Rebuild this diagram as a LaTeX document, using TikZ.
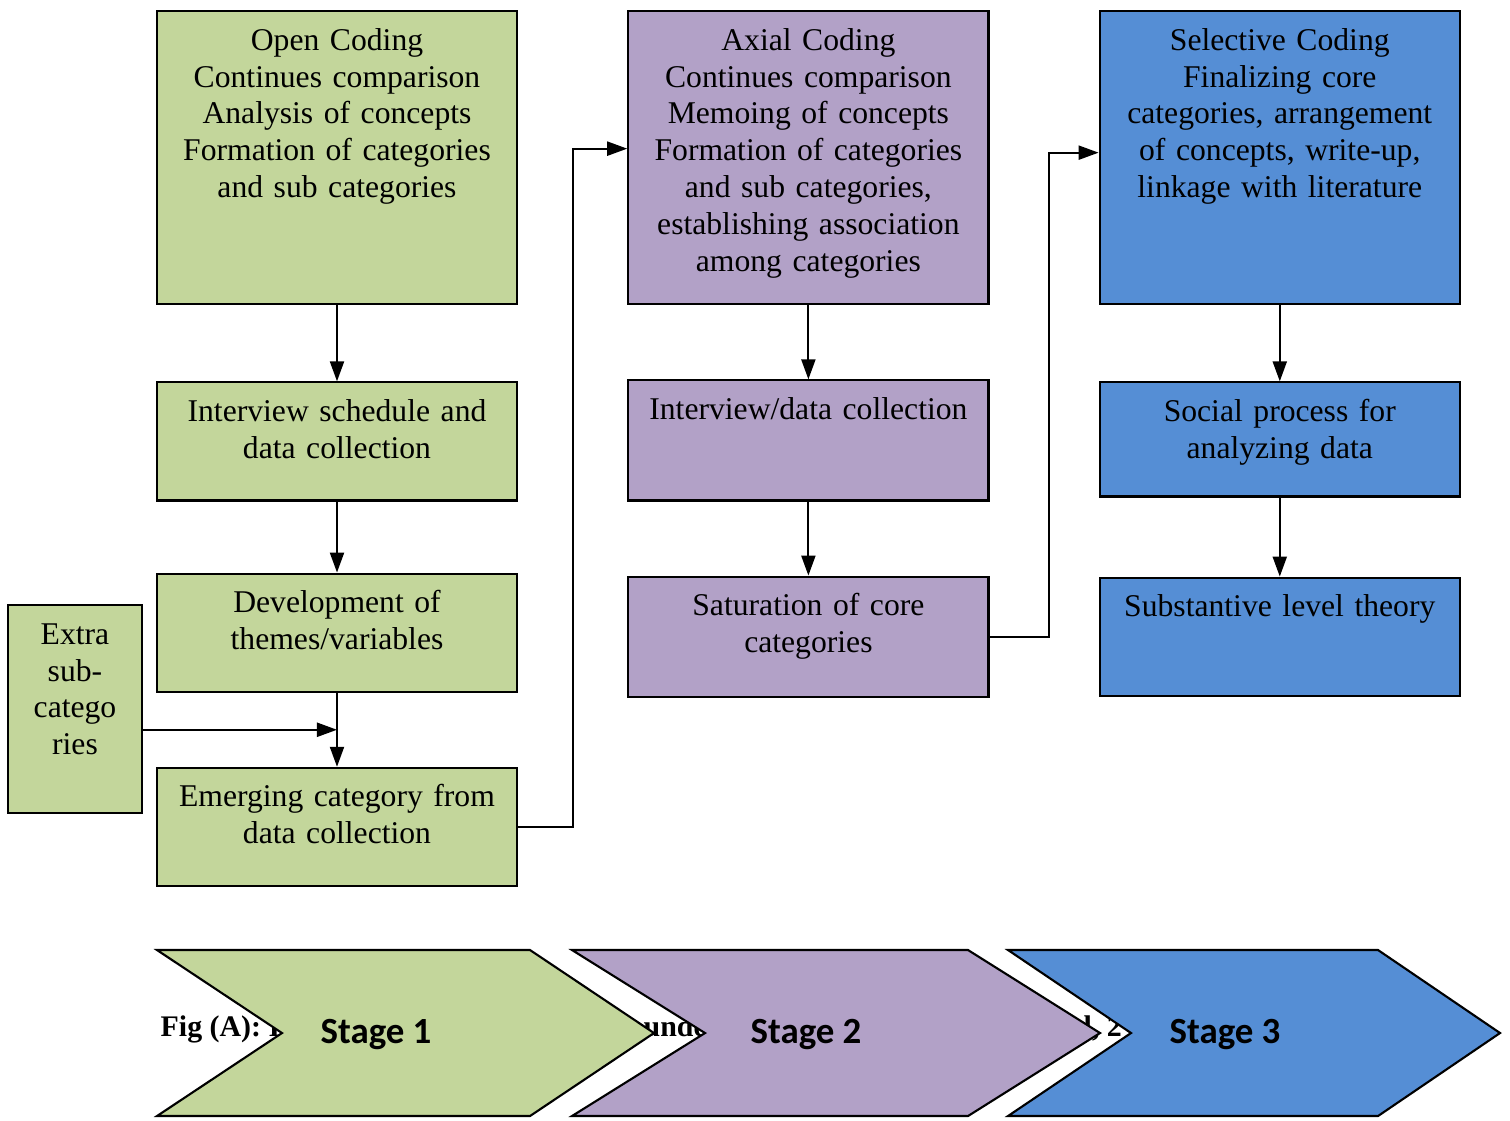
\documentclass[tikz,border=0pt]{standalone}
\usepackage{fontspec}
\setmainfont{Liberation Serif}
\newfontfamily\stagefont{Carlito}
\usepackage{xcolor}
\usetikzlibrary{positioning,%
  calc,%
  arrows.meta
}
\definecolor{gruen}{HTML}{C3D69B}
\definecolor{lila}{HTML}{B2A1C7}
\definecolor{blau}{HTML}{558ED5}

\begin{document}
\begin{tikzpicture}
                    [
                        x=0.01cm, y=-0.01cm,
                        every node/.style={font=\fontsize{9}{10.5}\selectfont},
                        box/.style={draw, line width=0.6pt, rectangle, minimum width=3.6cm,
                            text width=3.3cm, align=center, inner ysep=0.15cm, text height=0.24cm},
                        grossbox/.style={box, text depth=2.39cm},
                        kleinbox/.style={box, text depth=0.64cm},
                        pfeil/.style={line width=0.6pt, -{Triangle[length=2mm,width=1.4mm]}},
                        chevron/.style={draw, line width=0.6pt},
                        stagelabel/.style={font=\stagefont\bfseries\fontsize{10.5}{12}\selectfont},
                        figtext/.style={font=\bfseries\fontsize{8.5}{10}\selectfont, anchor=base west, inner sep=0pt}
                    ]

                    % Rahmen
                    \useasboundingbox (0,0) rectangle (1510,1120);

                    % Stufe 1
                    \node[grossbox, fill=gruen, anchor=north] (open) at (337,10)
                        {Open Coding\\ Continues comparison\\ Analysis of concepts\\ Formation of categories\\ and sub categories};
                    \node[kleinbox, fill=gruen, below=0.76cm of open] (interviewA)
                        {Interview schedule and\\ data collection};
                    \node[kleinbox, fill=gruen, below=0.71cm of interviewA] (themes)
                        {Development of\\ themes/variables};
                    \node[kleinbox, fill=gruen, below=0.74cm of themes] (emerging)
                        {Emerging category from\\ data collection};
                    \node[box, fill=gruen, anchor=north, minimum width=1.32cm, text width=1.1cm,
                        text depth=1.54cm] (extra) at (75,604)
                        {Extra\\ sub-\\ catego\\ ries};

                    % Stufe 2
                    \node[grossbox, fill=lila, right=1.09cm of open] (axial)
                        {Axial Coding\\ Continues comparison\\ Memoing of concepts\\ Formation of categories\\ and sub categories,\\ establishing association\\ among categories};
                    \node[kleinbox, fill=lila, below=0.74cm of axial, text depth=0.66cm] (interviewB)
                        {Interview/data collection};
                    \node[kleinbox, fill=lila, below=0.74cm of interviewB, text depth=0.66cm] (saturation)
                        {Saturation of core\\ categories};

                    % Stufe 3
                    \node[grossbox, fill=blau, right=1.09cm of axial] (selective)
                        {Selective Coding\\ Finalizing core\\ categories, arrangement\\ of concepts, write-up,\\ linkage with literature};
                    \node[kleinbox, fill=blau, below=0.76cm of selective, text depth=0.60cm] (social)
                        {Social process for\\ analyzing data};
                    \node[kleinbox, fill=blau, below=0.79cm of social] (substantive)
                        {Substantive level theory};

                    % Pfeile
                    \draw[pfeil] (open) -- (interviewA);
                    \draw[pfeil] (interviewA) -- (themes);
                    \draw[pfeil] (themes) -- (emerging);
                    \coordinate (treff) at ($(themes.south)!0.5!(emerging.north)$);
                    \draw[pfeil] (extra.east |- treff) -- (treff);
                    \draw[pfeil] (emerging.east) -- ++(55,0) |- ([yshift=0.09cm]axial.west);
                    \draw[pfeil] (axial) -- (interviewB);
                    \draw[pfeil] (interviewB) -- (saturation);
                    \draw[pfeil] (saturation.east) -- ++(59,0) |- ([yshift=0.05cm]selective.west);
                    \draw[pfeil] (selective) -- (social);
                    \draw[pfeil] (social) -- (substantive);

                    % Bildunterschrift (teilweise verdeckt)
                    \node[figtext] (figA) at (160,1036) {Fig (A): I};
                    \node[figtext] (figB) at (643,1036) {unde};
                    \node[figtext] (figC) at (1083,1036) {l, 2};

                    % Stufen
                    \draw[chevron, fill=gruen] (157,950) -- (530,950) -- (654,1033) -- (530,1116)
                        -- (157,1116) -- (282,1033) -- cycle;
                    \draw[chevron, fill=lila] (572,950) -- (968,950) -- (1100,1033) -- (968,1116)
                        -- (572,1116) -- (705,1033) -- cycle;
                    \draw[chevron, fill=blau] (1008,950) -- (1378,950) -- (1500,1033) -- (1378,1116)
                        -- (1008,1116) -- (1131,1033) -- cycle;
                    \node[stagelabel] (stage1) at (376,1034) {Stage 1};
                    \node[stagelabel] (stage2) at (806,1034) {Stage 2};
                    \node[stagelabel] (stage3) at (1225,1034) {Stage 3};
                \end{tikzpicture}
\end{document}
